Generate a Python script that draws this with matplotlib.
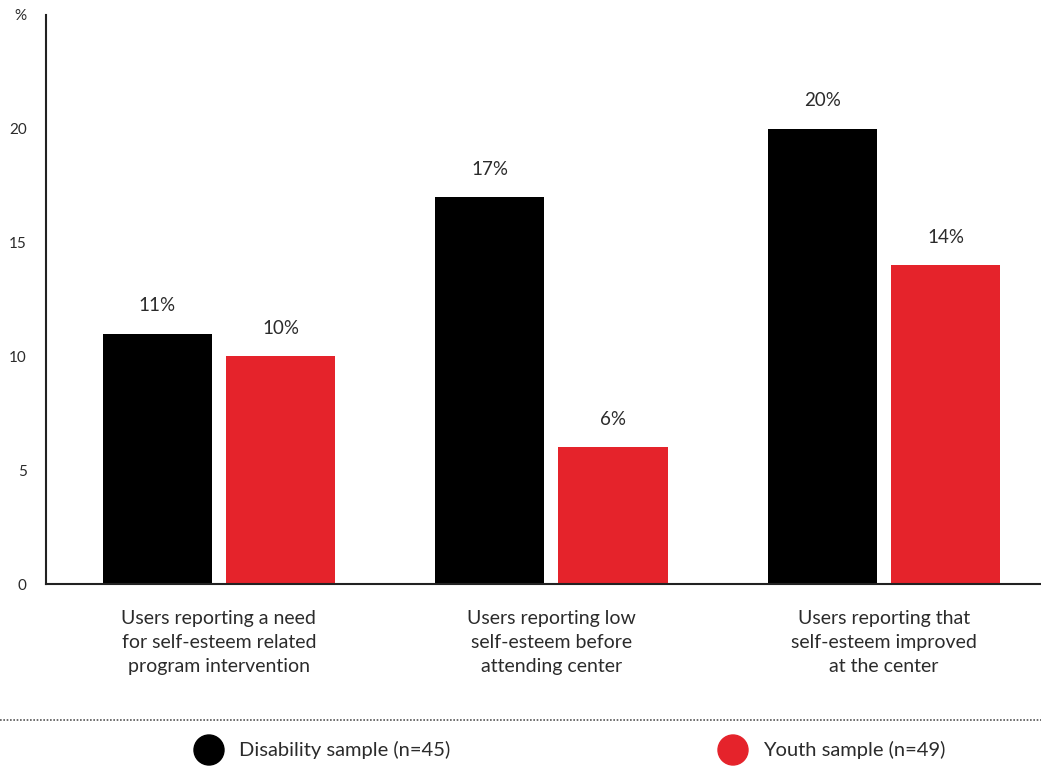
import matplotlib
matplotlib.use("Agg")
import matplotlib.pyplot as plt
from matplotlib.patches import Ellipse
import numpy as np

categories = ["Users reporting a need\nfor self-esteem related\nprogram intervention",
              "Users reporting low\nself-esteem before\nattending center",
              "Users reporting that\nself-esteem improved\nat the center"]
disability = [11, 17, 20]
youth = [10, 6, 14]
series_names = ["Disability sample (n=45)", "Youth sample (n=49)"]
yticks = [0, 5, 10, 15, 20, 25]
ytick_labels = ["0", "5", "10", "15", "20", "%"]

BLACK = "#000000"
RED = "#E5232B"
TXT = "#2b2b2b"
plt.rcParams['font.family'] = ['Lato', 'DejaVu Sans']

W, H = 1041, 776
fig = plt.figure(figsize=(W / 100, H / 100), dpi=100)
ax = fig.add_axes([46 / W, 1 - 584 / H, 1 - 46 / W, (584 - 15) / H])

x = np.arange(len(categories))
bw = 0.328
off = 0.185
ax.bar(x - off, disability, bw, color=BLACK, zorder=2)
ax.bar(x + off, youth, bw, color=RED, zorder=2)

for xi, v in zip(x - off, disability):
    ax.annotate(f"{v}%", (xi, v), xytext=(0, 14), textcoords="offset points",
                ha="center", va="bottom", fontsize=13.5, color=TXT)
for xi, v in zip(x + off, youth):
    ax.annotate(f"{v}%", (xi, v), xytext=(0, 14), textcoords="offset points",
                ha="center", va="bottom", fontsize=13.5, color=TXT)

ax.set_xlim(-0.52, 2.472)
ax.set_ylim(0, 25)
ax.set_yticks(yticks)
ax.set_yticklabels(ytick_labels)
ax.tick_params(axis="y", length=0, pad=14, labelsize=11, labelcolor=TXT)
ax.set_yticks([25], minor=True)
ax.tick_params(axis="y", which="minor", length=7, width=1.5, color="#222222")
ax.set_xticks(x)
ax.set_xticklabels(categories, fontsize=14, color=TXT, linespacing=1.5)
ax.tick_params(axis="x", length=0, pad=19)
for s in ["top", "right"]:
    ax.spines[s].set_visible(False)
ax.spines["left"].set_linewidth(1.5)
ax.spines["bottom"].set_linewidth(1.5)
ax.spines["left"].set_color("#222222")
ax.spines["bottom"].set_color("#222222")

# legend area in pixel coordinates
lax = fig.add_axes([0, 0, 1, 1 - 700 / H])
lax.set_xlim(0, W)
lax.set_ylim(76, 0)
lax.axis("off")
lax.plot([0, W], [20, 20], linestyle=(0, (1, 1)), color="#555555", linewidth=1.2)
for cx, col, name in [(209, BLACK, series_names[0]), (733, RED, series_names[1])]:
    lax.add_patch(Ellipse((cx, 50), 30, 30, color=col))
    lax.text(cx + 30, 50, name, ha="left", va="center", fontsize=14.5, color=TXT)

fig.savefig("out.png", dpi=100)
